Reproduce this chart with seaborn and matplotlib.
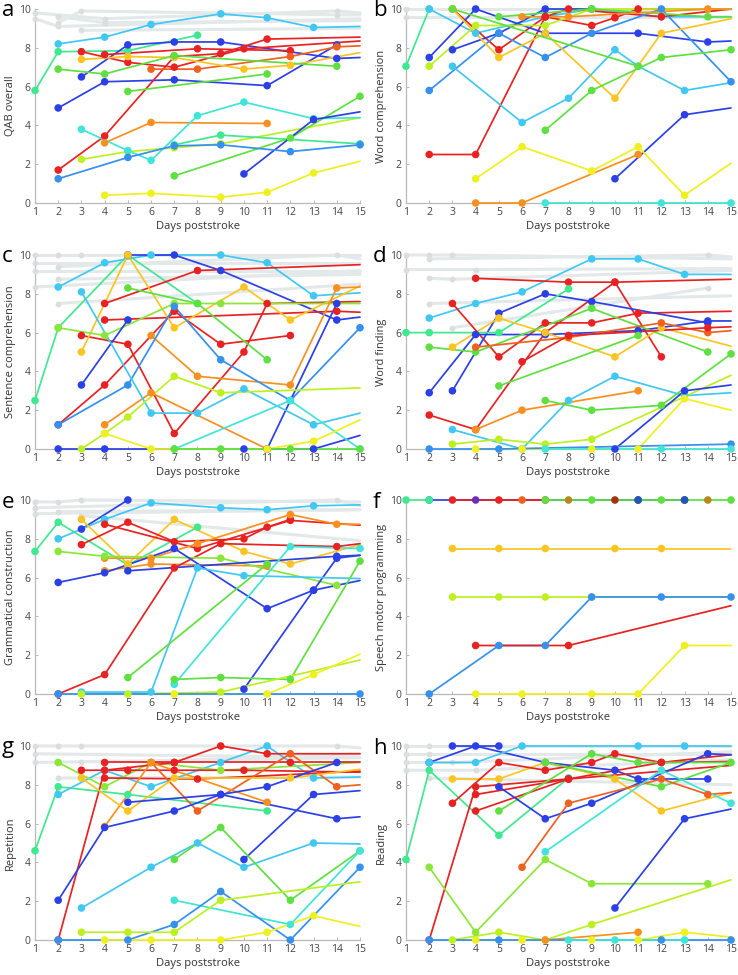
import numpy as np
import pandas as pd
import matplotlib
matplotlib.use("Agg")
import matplotlib.pyplot as plt
import seaborn as sns

# colour keys used by the patient trajectories (jet-like ordering)
colors = {
    "blue": "#2b40e6", "mblue": "#3590ee", "cyan": "#40c8f2", "turquoise": "#40e4d8",
    "greencyan": "#40e890", "green": "#5ee040", "lgreen": "#8ce63a", "ygreen": "#bdf020",
    "yellow": "#eef020", "gold": "#fac522", "orange": "#f89020", "ored": "#f06020",
    "red": "#e82222", "purple": "#6a2fb8", "olive": "#b48a1c", "brown": "#a8320c",
    "navy": "#2456b0",
}
gray_line = "#e3e8e8"
gray_dot = "#dcdede"

days_ticks = list(range(1, 16))
score_ticks = [0, 2, 4, 6, 8, 10]

# each entry: (colour, observed days, observed scores, projected score at day 15 or None)
qab = [
    ("cyan", [2, 4, 6, 9, 11, 13], [8.2, 8.55, 9.2, 9.75, 9.55, 9.05], 9.1),
    ("greencyan", [1, 2, 5, 8], [5.8, 7.8, 7.85, 8.65], None),
    ("blue", [3, 5, 7, 9, 14], [6.5, 8.15, 8.3, 8.3, 7.45], 7.5),
    ("blue", [2, 4, 7, 11, 14], [4.9, 6.25, 6.35, 6.05, 8.15], None),
    ("red", [2, 4, 7, 9, 11], [1.7, 3.45, 7.55, 7.7, 8.45], 8.55),
    ("red", [3, 5, 7, 10], [7.8, 7.25, 7.0, 7.95], 8.35),
    ("red", [4, 8, 12], [7.65, 7.95, 7.85], None),
    ("ored", [6, 8, 12, 14], [6.9, 6.9, 7.55, 8.05], 8.1),
    ("orange", [4, 6, 11], [3.1, 4.15, 4.1], None),
    ("gold", [3, 5, 7, 10, 12], [7.4, 7.55, 7.5, 6.9, 7.1], 7.75),
    ("ygreen", [3, 5, 7, 9], [2.25, 2.65, 2.85, 3.05], 4.4),
    ("green", [2, 4, 7, 14], [6.9, 6.65, 7.6, 7.05], None),
    ("green", [5, 11], [5.75, 6.65], None),
    ("greencyan", [7, 9, 15], [3.0, 3.5, 3.05], None),
    ("green", [7, 12, 15], [1.4, 3.35, 5.5], None),
    ("turquoise", [3, 5, 6, 8, 10, 13], [3.8, 2.7, 2.2, 4.5, 5.2, 4.35], 4.4),
    ("blue", [10, 13], [1.5, 4.3], 4.7),
    ("mblue", [2, 5, 7, 9, 12, 15], [1.25, 2.35, 2.95, 3.0, 2.65, 3.0], None),
    ("yellow", [4, 6, 9, 11, 13], [0.4, 0.5, 0.3, 0.55, 1.55], 2.15),
]
qab_gray = [
    ([1, 4, 14], [9.8, 9.5, 9.9], 9.8),
    ([2, 3, 14], [9.3, 9.9, 9.7], 9.7),
    ([1, 2], [9.5, 9.1], 9.5),
    ([2, 4], [9.6, 9.3], 9.4),
    ([3], [8.9], 9.0),
]

word_comp = [
    ("greencyan", [1, 2], [7.05, 10.0], None),
    ("cyan", [2, 4, 7, 9, 12], [10.0, 8.75, 9.6, 10.0, 9.6], 9.6),
    ("red", [3, 5, 7, 9, 10, 11], [10.0, 7.9, 9.6, 9.15, 9.55, 10.0], 10.0),
    ("red", [2, 4, 7, 8, 12], [2.5, 2.5, 9.6, 10.0, 9.6], 10.0),
    ("blue", [2, 4, 7, 11, 14], [7.5, 10.0, 8.75, 8.75, 8.3], 8.35),
    ("blue", [3, 5, 7, 9], [7.9, 8.75, 10.0, 10.0], None),
    ("mblue", [2, 5, 7, 9, 12, 15], [5.8, 8.75, 7.5, 8.75, 10.0, 6.25], None),
    ("ygreen", [2, 4, 7, 9], [7.05, 9.15, 9.15, 10.0], 10.0),
    ("green", [5, 9, 14], [9.6, 10.0, 9.6], 9.6),
    ("gold", [3, 5, 7, 10, 12], [10.0, 7.5, 8.75, 5.4, 8.75], 9.5),
    ("orange", [6, 8, 14], [9.6, 9.6, 10.0], 10.0),
    ("cyan", [3, 6, 8, 10, 11, 13], [7.05, 4.15, 5.4, 7.9, 7.05, 5.8], 6.2),
    ("green", [7, 9, 12, 15], [3.75, 5.8, 7.5, 7.9], None),
    ("green", [3, 11], [10.0, 7.05], None),
    ("blue", [10, 13], [1.25, 4.55], 4.9),
    ("yellow", [4, 6, 9, 11, 13], [1.25, 2.9, 1.65, 2.9, 0.4], 2.05),
    ("orange", [4, 6, 11], [0.0, 0.0, 2.5], None),
    ("turquoise", [7, 12, 15], [0.0, 0.0, 0.0], None),
]
word_comp_gray = [
    ([1], [10.0], 10.0),
    ([1], [9.6], 9.6),
]

sent_comp = [
    ("greencyan", [1, 2, 5, 8], [2.5, 6.25, 10.0, 7.5], None),
    ("cyan", [2, 4, 6, 9, 11, 13], [8.35, 9.6, 10.0, 10.0, 9.6, 7.9], 8.05),
    ("blue", [5, 7, 9, 14], [10.0, 10.0, 9.2, 6.65], 6.8),
    ("red", [4, 8], [7.5, 9.2], 9.5),
    ("red", [4, 14], [6.65, 7.1], 7.05),
    ("red", [3, 5, 7, 10, 11], [5.85, 5.4, 0.8, 5.0, 7.5], 7.6),
    ("red", [2, 4, 7, 9, 12], [1.25, 3.3, 7.1, 5.4, 5.85], None),
    ("gold", [3, 5, 7, 10, 12], [5.0, 10.0, 6.25, 8.35, 6.65], 8.4),
    ("green", [5, 8, 11], [8.3, 7.5, 4.6], None),
    ("lgreen", [2, 4, 7, 9], [6.25, 5.85, 7.5, 7.5], 7.5),
    ("orange", [6, 8, 12, 14], [5.85, 3.75, 3.3, 8.3], 8.35),
    ("orange", [4, 6, 11], [1.25, 2.9, 0.0], None),
    ("mblue", [2, 5, 7, 9, 12, 15], [1.25, 3.3, 7.35, 4.6, 2.5, 6.25], None),
    ("blue", [3, 5], [3.3, 6.65], None),
    ("blue", [2, 4, 10, 13], [0.0, 0.0, 0.0, 0.0], 0.7),
    ("blue", [11, 14], [0.0, 7.5], None),
    ("cyan", [3, 6, 8, 10, 13], [8.1, 1.85, 1.85, 3.1, 1.25], 1.85),
    ("turquoise", [7, 12, 15], [0.0, 2.5, 0.0], None),
    ("ygreen", [3, 4, 5, 7, 9], [0.0, 0.8, 1.65, 3.75, 2.9], 3.15),
    ("yellow", [4, 6, 11, 13], [0.8, 0.0, 0.0, 0.4], 1.5),
    ("green", [7, 9, 12, 15], [0.0, 0.0, 0.0, 0.0], None),
]
sent_comp_gray = [
    ([1, 2, 3], [10.0, 10.0, 10.0], 10.0),
    ([2, 14], [9.4, 10.0], 9.8),
    ([1], [9.6], 9.6),
    ([1], [9.2], 9.2),
    ([2], [8.75], 9.0),
    ([1], [8.35], 9.2),
    ([2], [7.5], 8.5),
]

word_find = [
    ("cyan", [2, 4, 6, 9, 11, 13], [6.75, 7.5, 8.1, 9.8, 9.8, 9.0], 9.0),
    ("red", [4, 8, 10], [8.8, 8.6, 8.6], 8.75),
    ("red", [3, 5, 7, 9, 11], [7.5, 4.75, 6.5, 6.5, 7.0], 7.1),
    ("red", [2, 4, 7, 10, 12], [1.75, 1.0, 6.0, 8.6, 4.75], None),
    ("blue", [2, 4, 7, 11, 14], [2.9, 5.9, 5.9, 6.1, 6.6], 6.6),
    ("blue", [3, 5, 7, 9, 14], [3.0, 7.0, 8.0, 7.6, 6.5], None),
    ("greencyan", [1, 2, 5, 8], [6.0, 6.0, 6.0, 8.25], None),
    ("gold", [3, 5, 7, 10, 12], [5.25, 6.75, 6.0, 4.75, 6.25], 5.3),
    ("green", [2, 4, 9, 14], [5.25, 5.0, 7.25, 5.0], None),
    ("ored", [4, 8, 12, 14], [5.25, 5.75, 6.5, 6.0], 6.1),
    ("red", [6, 8, 14], [4.5, 5.85, 6.25], 6.3),
    ("green", [5, 11], [3.25, 5.85], None),
    ("cyan", [3, 6, 8, 10, 13], [1.0, 0.0, 2.5, 3.75, 2.75], 2.9),
    ("orange", [4, 6, 11], [1.0, 2.0, 3.0], None),
    ("green", [7, 9, 12, 15], [2.5, 2.0, 2.25, 4.9], None),
    ("ygreen", [3, 5, 7, 9], [0.25, 0.5, 0.25, 0.5], 3.8),
    ("blue", [10, 13], [0.0, 3.0], 3.3),
    ("yellow", [4, 6, 9, 11, 13], [0.0, 0.0, 0.0, 0.0, 2.6], 2.0),
    ("mblue", [2, 5, 15], [0.0, 0.0, 0.25], None),
    ("turquoise", [7, 12, 15], [0.0, 0.0, 0.0], None),
]
word_find_gray = [
    ([1, 2, 3], [10.0, 10.0, 10.0], 9.8),
    ([2, 14], [9.8, 10.0], 9.9),
    ([1, 4], [9.25, 9.25], 9.3),
    ([2, 3], [8.8, 8.75], 9.2),
    ([2], [7.5], 7.9),
    ([3, 14], [6.25, 8.3], None),
]

gram = [
    ("greencyan", [1, 2, 5, 8], [7.35, 8.85, 6.65, 8.6], None),
    ("blue", [3, 5], [8.5, 10.0], None),
    ("cyan", [2, 4, 6, 9, 11, 13], [8.0, 9.0, 9.85, 9.6, 9.5, 9.7], 9.75),
    ("gold", [3, 5, 7, 10, 12], [9.0, 6.7, 9.0, 7.35, 6.7], 7.7),
    ("red", [3, 5, 7, 10, 11, 12], [7.7, 8.85, 7.85, 8.0, 8.6, 9.0], None),
    ("red", [4, 8, 12], [8.75, 7.5, 8.95], 8.7),
    ("orange", [4, 6, 8, 12, 14], [7.0, 7.0, 7.75, 9.25, 8.75], 8.75),
    ("orange", [4, 6, 11], [6.35, 6.7, 6.6], None),
    ("red", [2, 4, 7, 9, 14], [0.0, 1.0, 6.5, 7.75, 7.6], 7.75),
    ("lgreen", [2, 4, 9, 14], [7.35, 7.1, 7.0, 5.6], None),
    ("blue", [2, 4, 7, 11, 13, 14], [5.75, 6.25, 7.5, 4.4, 5.35, 7.0], 7.15),
    ("blue", [5, 14], [6.35, 7.1], 7.15),
    ("blue", [10, 13], [0.25, 5.35], 5.85),
    ("cyan", [3, 6, 8, 10], [0.1, 0.1, 6.5, 6.1], 5.95),
    ("turquoise", [7, 12, 15], [0.5, 7.6, 7.5], None),
    ("green", [5, 11], [0.85, 6.7], None),
    ("green", [7, 9, 12, 15], [0.75, 0.85, 0.75, 6.85], None),
    ("ygreen", [3, 5, 9], [0.0, 0.0, 0.1], 1.75),
    ("yellow", [7, 11, 13], [0.0, 0.0, 1.0], 2.05),
    ("mblue", [2, 15], [0.0, 0.0], None),
]
gram_gray = [
    ([1, 2, 3], [9.9, 9.9, 10.0], 9.9),
    ([1, 14], [9.6, 10.0], 9.7),
    ([2], [9.4], 9.5),
    ([1], [9.3], 9.5),
    ([3], [9.2], 7.9),
]

speech_motor = [
    ("blue", [2, 11, 13], [10.0, 10.0, 10.0], None),
    ("greencyan", [1, 2], [10.0, 10.0], None),
    ("red", [3, 5, 7], [10.0, 10.0, 10.0], None),
    ("green", [7, 9, 12, 15], [10.0, 10.0, 10.0, 10.0], None),
    ("purple", [4], [10.0], None),
    ("ored", [6], [10.0], None),
    ("olive", [8], [10.0], None),
    ("brown", [10], [10.0], None),
    ("navy", [11], [10.0], None),
    ("navy", [13], [10.0], None),
    ("olive", [14], [10.0], None),
    ("gold", [3, 5, 7, 10, 12], [7.5, 7.5, 7.5, 7.5, 7.5], 7.5),
    ("ygreen", [3, 5, 7, 9], [5.0, 5.0, 5.0, 5.0], 5.0),
    ("mblue", [2, 5, 7, 9, 12, 15], [0.0, 2.5, 2.5, 5.0, 5.0, 5.0], None),
    ("red", [4, 8], [2.5, 2.5], 4.55),
    ("yellow", [4, 6, 9, 11, 13], [0.0, 0.0, 0.0, 0.0, 2.5], 2.5),
]
speech_motor_gray = []

repetition = [
    ("greencyan", [1, 2, 5, 11], [4.6, 7.9, 7.5, 6.65], None),
    ("cyan", [2, 4, 6, 9, 11, 13], [7.5, 8.75, 7.9, 9.15, 10.0, 8.35], 8.4),
    ("lgreen", [2, 4, 6, 9], [9.15, 7.9, 9.15, 8.75], 9.15),
    ("red", [2, 4, 7, 9, 11], [0.0, 8.75, 9.15, 10.0, 9.6], 9.6),
    ("red", [3, 5, 7, 10], [8.75, 8.75, 8.75, 8.75], 8.65),
    ("red", [4, 7, 12], [9.15, 9.15, 9.15], 9.15),
    ("red", [4, 8], [8.35, 8.3], 8.7),
    ("ored", [6, 8, 12, 14], [9.15, 6.65, 9.6, 7.9], 8.0),
    ("orange", [4, 6, 11], [5.85, 9.15, 7.1], None),
    ("gold", [3, 5, 7, 12], [8.35, 6.65, 8.35, 8.35], 8.8),
    ("blue", [2, 4, 7, 9, 11, 14], [2.05, 5.8, 6.65, 7.5, 7.9, 9.15], None),
    ("blue", [5, 9, 14], [7.1, 7.5, 6.25], 6.35),
    ("blue", [10, 13], [4.15, 7.5], 7.7),
    ("cyan", [3, 6, 8, 10, 13], [1.65, 3.75, 5.0, 3.75, 5.0], 4.95),
    ("green", [7, 9, 12, 15], [4.15, 5.8, 2.05, 4.6], None),
    ("turquoise", [7, 12, 15], [2.05, 0.8, 4.6], None),
    ("mblue", [2, 5, 7, 9, 12, 15], [0.0, 0.0, 0.8, 2.5, 0.0, 3.75], None),
    ("ygreen", [3, 5, 7, 9], [0.4, 0.4, 0.4, 2.05], 3.0),
    ("yellow", [4, 6, 9, 11, 13], [0.0, 0.0, 0.0, 0.4, 1.25], 0.7),
]
repetition_gray = [
    ([1, 2, 3, 14], [10.0, 10.0, 10.0, 10.0], 9.9),
    ([1], [9.6], 9.4),
    ([1], [9.15], 9.4),
    ([2], [8.35], 8.4),
    ([3, 6], [9.2, 9.2], 9.6),
]

reading = [
    ("greencyan", [1, 2, 5, 8], [4.15, 8.75, 5.4, 8.35], None),
    ("blue", [2, 4, 7, 10, 11, 14], [9.15, 10.0, 9.15, 8.75, 8.3, 8.3], None),
    ("blue", [3, 5], [10.0, 10.0], None),
    ("cyan", [2, 4, 6, 11, 13], [9.15, 9.15, 10.0, 10.0, 10.0], 10.0),
    ("gold", [3, 5, 7, 10, 12], [8.3, 8.3, 9.15, 8.3, 6.65], 7.6),
    ("red", [3, 5, 7, 9, 10, 12], [7.05, 9.15, 8.75, 9.15, 9.6, 9.15], 9.2),
    ("red", [2, 4, 8, 12], [0.0, 7.9, 8.3, 9.15], 9.55),
    ("red", [4, 8], [7.5, 8.3], 9.0),
    ("red", [4, 8], [6.65, 8.3], None),
    ("green", [5, 9, 11, 15], [6.65, 9.6, 9.15, 9.15], None),
    ("green", [7, 12], [9.15, 7.9], 9.15),
    ("blue", [5, 7, 9, 14], [7.9, 6.25, 7.05, 9.6], 9.55),
    ("ored", [6, 8, 12, 14], [3.75, 7.05, 8.3, 7.5], 7.6),
    ("turquoise", [7, 12, 15], [4.55, 8.75, 7.05], None),
    ("lgreen", [2, 4, 7, 9, 14], [3.75, 0.4, 4.15, 2.9, 2.9], None),
    ("blue", [10, 13], [1.65, 6.25], 6.75),
    ("ygreen", [3, 5, 7, 9], [0.0, 0.4, 0.0, 0.8], 3.1),
    ("orange", [7, 11], [0.0, 0.4], None),
    ("yellow", [4, 6, 9, 11, 13], [0.0, 0.0, 0.0, 0.0, 0.4], 0.15),
    ("mblue", [2, 5, 12, 15], [0.0, 0.0, 0.0, 0.0], None),
    ("turquoise", [8, 10, 13], [0.0, 0.0, 0.0], None),
]
reading_gray = [
    ([1, 2], [10.0, 10.0], 10.0),
    ([1, 2], [9.6, 9.6], 9.6),
    ([1, 3], [9.15, 9.15], 9.7),
    ([1, 4], [8.75, 8.75], 9.3),
    ([2], [8.35], 8.0),
]

panels = [
    ("a", "QAB overall", qab, qab_gray),
    ("b", "Word comprehension", word_comp, word_comp_gray),
    ("c", "Sentence comprehension", sent_comp, sent_comp_gray),
    ("d", "Word finding", word_find, word_find_gray),
    ("e", "Grammatical construction", gram, gram_gray),
    ("f", "Speech motor programming", speech_motor, speech_motor_gray),
    ("g", "Repetition", repetition, repetition_gray),
    ("h", "Reading", reading, reading_gray),
]


def to_frame(series):
    rows = []
    for i, (col, days, vals, end) in enumerate(series):
        for d, v in zip(days, vals):
            rows.append(dict(id=i, day=d, score=v, color=col, marked=True))
        if end is not None:
            rows.append(dict(id=i, day=15, score=end, color=col, marked=False))
    return pd.DataFrame(rows)


def gray_frame(series):
    rows = []
    for i, (days, vals, end) in enumerate(series):
        for d, v in zip(days, vals):
            rows.append(dict(id=i, day=d, score=v, marked=True))
        if end is not None:
            rows.append(dict(id=i, day=15, score=end, marked=False))
    return pd.DataFrame(rows)


sns.set_style("ticks")
plt.rcParams["font.family"] = ["Open Sans", "DejaVu Sans"]

W, H = 738, 975
fig = plt.figure(figsize=(W / 100, H / 100), dpi=100)

left_px = [35, 406]
bottom_px = [203, 449, 694, 940]
width_px = 325
height_px = 194

for k, (letter, ylabel, series, grays) in enumerate(panels):
    r, c = divmod(k, 2)
    ax = fig.add_axes([left_px[c] / W, 1 - bottom_px[r] / H, width_px / W, height_px / H])

    if grays:
        g = gray_frame(grays)
        sns.lineplot(data=g, x="day", y="score", units="id", estimator=None,
                     color=gray_line, lw=2.2, ax=ax, legend=False, sort=True, zorder=2.8)
        sns.scatterplot(data=g[g.marked], x="day", y="score", color=gray_dot,
                        s=18, linewidth=0, ax=ax, legend=False, zorder=2.9)

    df = to_frame(series)
    pal = {i: colors[s[0]] for i, s in enumerate(series)}
    sns.lineplot(data=df, x="day", y="score", hue="id", palette=pal, estimator=None,
                 lw=1.25, ax=ax, legend=False, sort=True, zorder=3)
    sns.scatterplot(data=df[df.marked], x="day", y="score", hue="id", palette=pal,
                    s=30, linewidth=0, ax=ax, legend=False, zorder=4)

    for art in ax.lines + ax.collections:
        art.set_clip_on(False)

    ax.set_xlim(1, 15)
    ax.set_ylim(0, 10)
    ax.set_xticks(days_ticks)
    ax.set_yticks(score_ticks)
    ax.set_xlabel("Days poststroke", fontsize=8, color="#333333", labelpad=2)
    ax.set_ylabel(ylabel, fontsize=8, color="#333333", labelpad=2)
    ax.tick_params(direction="in", length=2.5, width=0.7, color="#b8b8b8",
                   labelsize=7.5, labelcolor="#444444", pad=3)
    sns.despine(ax=ax)
    for sp in ["left", "bottom"]:
        ax.spines[sp].set_color("#b8b8b8")
        ax.spines[sp].set_linewidth(0.9)

    fig.text((left_px[c] - 33) / W, 1 - (bottom_px[r] - height_px + 2) / H, letter,
             fontsize=16, ha="left", va="center", color="black")

fig.savefig("out.png", dpi=100)
